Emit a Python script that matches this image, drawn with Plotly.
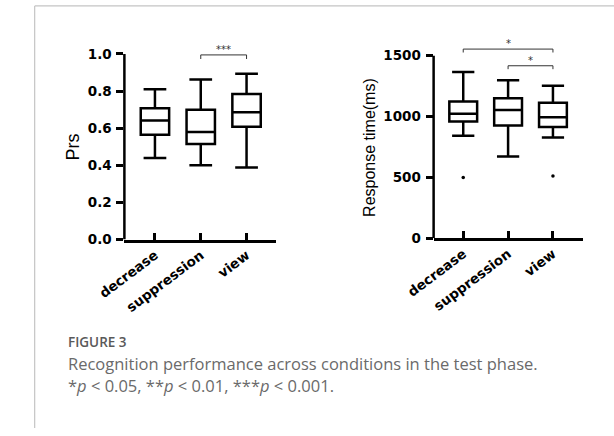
import plotly.graph_objects as go

W, H = 614, 436

categories = ["decrease", "suppression", "view"]

# Prs (recognition) box statistics
prs_low = [0.44, 0.40, 0.388]
prs_q1 = [0.565, 0.515, 0.608]
prs_med = [0.642, 0.58, 0.686]
prs_q3 = [0.707, 0.70, 0.785]
prs_high = [0.81, 0.862, 0.894]

# Response time (ms) box statistics
rt_low = [842, 672, 828]
rt_q1 = [960, 927, 914]
rt_med = [1022, 1054, 995]
rt_q3 = [1124, 1151, 1113]
rt_high = [1366, 1298, 1253]
rt_outlier_cat = ["decrease", "view"]
rt_outlier_val = [498, 511]

prs_ticks = [0.0, 0.2, 0.4, 0.6, 0.8, 1.0]
prs_ticktext = ["0.0", "0.2", "0.4", "0.6", "0.8", "1.0"]
rt_ticks = [0, 500, 1000, 1500]

# significance brackets: (from, to, level, star)
prs_sig = [("suppression", "view", 0.995, "***")]
rt_sig = [("decrease", "view", 1554, "*"), ("suppression", "view", 1417, "*")]


def px_x(p):
    return p / W


def px_y(p):
    return 1 - p / H


fig = go.Figure()

box_style = dict(fillcolor="white", line=dict(color="black", width=2.5),
                 width=0.62, whiskerwidth=0.8, boxpoints=False, showlegend=False,
                 hoverinfo="skip")

fig.add_trace(go.Box(x=categories, q1=prs_q1, median=prs_med, q3=prs_q3,
                     lowerfence=prs_low, upperfence=prs_high,
                     xaxis="x", yaxis="y", **box_style))
fig.add_trace(go.Box(x=categories, q1=rt_q1, median=rt_med, q3=rt_q3,
                     lowerfence=rt_low, upperfence=rt_high,
                     xaxis="x2", yaxis="y2", **box_style))
fig.add_trace(go.Scatter(x=rt_outlier_cat, y=rt_outlier_val, mode="markers",
                         marker=dict(color="black", size=3.5),
                         xaxis="x2", yaxis="y2", showlegend=False,
                         hoverinfo="skip"))

xfont = dict(family="DejaVu Sans", size=13.5, color="black", weight="bold")
yfont = dict(family="DejaVu Sans", size=13.5, color="black", weight="bold")

xcommon = dict(type="category", categoryorder="array", categoryarray=categories,
               showline=True, linecolor="black", linewidth=2.5,
               ticks="inside", ticklen=7, tickwidth=2.5, tickcolor="black",
               tickangle=-37, tickfont=xfont, showgrid=False, zeroline=False,
               fixedrange=True)
ycommon = dict(showline=False, ticks="outside", ticklen=7, tickwidth=2.5,
               tickcolor="black", tickfont=yfont, showgrid=False,
               zeroline=False, fixedrange=True, ticklabelstandoff=2)

fig.update_layout(
    width=W, height=H,
    margin=dict(l=0, r=0, t=0, b=0),
    paper_bgcolor="white", plot_bgcolor="white",
    xaxis=dict(domain=[px_x(101), px_x(260)], range=[-0.667, 2.646],
               anchor="y", **xcommon),
    yaxis=dict(domain=[px_y(244), px_y(36.1)], range=[0, 1.1],
               tickvals=prs_ticks, ticktext=prs_ticktext, anchor="x", **ycommon),
    xaxis2=dict(domain=[px_x(425), px_x(582)], range=[-0.66, 2.68],
                anchor="y2", **xcommon),
    yaxis2=dict(domain=[px_y(242.7), px_y(31.9)], range=[0, 1700],
                tickvals=rt_ticks, anchor="x2", **ycommon),
)

shapes = []
# card border
shapes.append(dict(type="line", xref="paper", yref="paper",
                   x0=px_x(7), x1=px_x(7), y0=0, y1=px_y(6),
                   line=dict(color="#c4c4c4", width=1.2)))
shapes.append(dict(type="line", xref="paper", yref="paper",
                   x0=px_x(7), x1=1, y0=px_y(6), y1=px_y(6),
                   line=dict(color="#c4c4c4", width=1.2)))
# y axis lines up to top tick
shapes.append(dict(type="line", xref="x domain", yref="y", x0=0, x1=0,
                   y0=0, y1=1.0, line=dict(color="black", width=2.5)))
shapes.append(dict(type="line", xref="x2 domain", yref="y2", x0=0, x1=0,
                   y0=0, y1=1500, line=dict(color="black", width=2.5)))

annotations = []


def add_bracket(xa, ya, a, b, level, drop, star, starpad):
    ia, ib = categories.index(a), categories.index(b)
    shapes.append(dict(type="path", xref=xa, yref=ya,
                       path=f"M {ia},{level - drop} L {ia},{level} L {ib},{level} L {ib},{level - drop}",
                       line=dict(color="#333333", width=1)))
    annotations.append(dict(x=(ia + ib) / 2, y=level + starpad, xref=xa, yref=ya,
                            text=star, showarrow=False, xanchor="center",
                            yanchor="middle",
                            font=dict(family="DejaVu Sans", size=10,
                                      color="#333333")))


for a, b, lvl, s in prs_sig:
    add_bracket("x", "y", a, b, lvl, 0.022, s, 0.03)
for a, b, lvl, s in rt_sig:
    add_bracket("x2", "y2", a, b, lvl, 28, s, 45)

# axis titles
annotations.append(dict(x=px_x(47.5), y=px_y(150), xref="paper", yref="paper",
                        xanchor="center", yanchor="middle",
                        text="Prs", textangle=-90, showarrow=False,
                        font=dict(family="Liberation Sans, Arial", size=18,
                                  color="black")))
annotations.append(dict(x=px_x(358), y=px_y(150), xref="paper", yref="paper",
                        xanchor="center", yanchor="middle",
                        text="Response time(ms)", textangle=-90, showarrow=False,
                        font=dict(family="Liberation Sans, Arial", size=16,
                                  color="black")))

# caption
annotations.append(dict(x=px_x(40), y=px_y(348), xref="paper", yref="paper",
                        xanchor="left", yanchor="middle", text="FIGURE 3",
                        showarrow=False,
                        font=dict(family="Open Sans", size=13.5, color="#595959",
                                  weight=600)))
annotations.append(dict(x=px_x(40), y=px_y(370.5), xref="paper", yref="paper",
                        xanchor="left", yanchor="middle",
                        text="Recognition performance across conditions in the test phase.",
                        showarrow=False,
                        font=dict(family="Open Sans", size=16.5, color="#6a6a6a")))
annotations.append(dict(x=px_x(40), y=px_y(392.5), xref="paper", yref="paper",
                        xanchor="left", yanchor="middle",
                        text="*<i>p</i> &lt; 0.05, **<i>p</i> &lt; 0.01, ***<i>p</i> &lt; 0.001.",
                        showarrow=False,
                        font=dict(family="Open Sans", size=16.5, color="#6a6a6a")))

fig.update_layout(shapes=shapes, annotations=annotations)
fig.write_html("out.html")
